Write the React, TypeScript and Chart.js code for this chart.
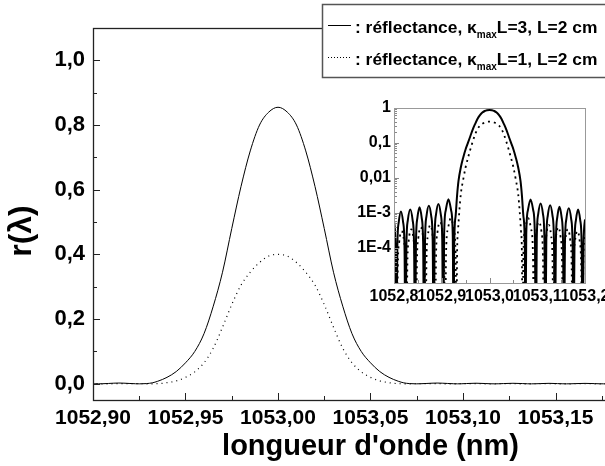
import React, { useEffect, useRef } from "react";
import { Chart, registerables } from "chart.js";
Chart.register(...registerables);

const FONT = '"Liberation Sans", Arial, Helvetica, sans-serif';

// ---- Series: kappa_max L = 3 (solid) ----
const SOLID_X = [
  1052.8, 1052.803, 1052.805,
  1052.807, 1052.81, 1052.8145, 1052.819, 1052.822, 1052.824,
  1052.826, 1052.829, 1052.834, 1052.839, 1052.842, 1052.844,
  1052.846, 1052.849, 1052.8535, 1052.858, 1052.861, 1052.863,
  1052.865, 1052.868, 1052.873, 1052.878, 1052.881, 1052.883,
  1052.885, 1052.888, 1052.893, 1052.898, 1052.901, 1052.903,
  1052.905, 1052.9085, 1052.914, 1052.9195, 1052.923, 1052.925,
  1052.926, 1052.929, 1052.932, 1052.935, 1052.94, 1052.945, 1052.95, 1052.955,
  1052.96, 1052.965, 1052.97, 1052.975, 1052.98, 1052.985, 1052.99, 1052.995,
  1053.0,
  1053.005, 1053.01, 1053.015, 1053.02, 1053.025, 1053.03, 1053.035, 1053.04,
  1053.045, 1053.05, 1053.055, 1053.06, 1053.065, 1053.068, 1053.071, 1053.074, 1053.075,
  1053.077, 1053.0805, 1053.086, 1053.0915, 1053.095, 1053.097,
  1053.099, 1053.102, 1053.107, 1053.112, 1053.115, 1053.117,
  1053.119, 1053.122, 1053.127, 1053.132, 1053.135, 1053.137,
  1053.139, 1053.142, 1053.1465, 1053.151, 1053.154, 1053.156,
  1053.158, 1053.161, 1053.166, 1053.171, 1053.174, 1053.176,
  1053.178, 1053.181, 1053.1855, 1053.19, 1053.193, 1053.195,
  1053.197, 1053.2,
];
const SOLID_Y = [
  6.0e-4, 1.2e-4, 1e-7,
  1.1e-4, 5.5e-4, 1.1e-3, 5.5e-4, 1.1e-4, 1e-7,
  1.25e-4, 6.2e-4, 1.25e-3, 6.2e-4, 1.25e-4, 1e-7,
  1.45e-4, 7.2e-4, 1.45e-3, 7.2e-4, 1.45e-4, 1e-7,
  1.6e-4, 8.0e-4, 1.6e-3, 8.0e-4, 1.6e-4, 1e-7,
  1.8e-4, 9.0e-4, 1.8e-3, 9.0e-4, 1.8e-4, 1e-7,
  2.4e-4, 1.2e-3, 2.45e-3, 1.2e-3, 2.4e-4, 1e-7,
  1e-4, 8e-4, 3e-3, 8e-3, 0.02, 0.038, 0.065, 0.1,
  0.155, 0.24, 0.345, 0.48, 0.61, 0.72, 0.8, 0.84,
  0.855,
  0.84, 0.8, 0.72, 0.61, 0.48, 0.345, 0.24, 0.155,
  0.1, 0.065, 0.038, 0.02, 8e-3, 3e-3, 8e-4, 1e-4, 1e-7,
  2.4e-4, 1.2e-3, 2.4e-3, 1.2e-3, 2.4e-4, 1e-7,
  1.85e-4, 9.2e-4, 1.85e-3, 9.2e-4, 1.85e-4, 1e-7,
  1.65e-4, 8.2e-4, 1.65e-3, 8.2e-4, 1.65e-4, 1e-7,
  1.5e-4, 7.5e-4, 1.5e-3, 7.5e-4, 1.5e-4, 1e-7,
  1.35e-4, 6.7e-4, 1.35e-3, 6.7e-4, 1.35e-4, 1e-7,
  1.25e-4, 6.2e-4, 1.25e-3, 6.2e-4, 1.25e-4, 1e-7,
  1.2e-4, 6.5e-4,
];

// ---- Series: kappa_max L = 1 (dotted) ----
const DOTTED_X = [
  1052.8, 1052.803, 1052.806,
  1052.808, 1052.811, 1052.816, 1052.821, 1052.824, 1052.826,
  1052.828, 1052.831, 1052.836, 1052.841, 1052.844, 1052.846,
  1052.848, 1052.851, 1052.856, 1052.861, 1052.864, 1052.866,
  1052.868, 1052.871, 1052.876, 1052.881, 1052.884, 1052.886,
  1052.888, 1052.891, 1052.8965, 1052.902, 1052.905, 1052.907,
  1052.909, 1052.913, 1052.919, 1052.925, 1052.929, 1052.931,
  1052.932, 1052.934, 1052.937, 1052.94, 1052.945, 1052.95, 1052.955, 1052.96,
  1052.965, 1052.97, 1052.975, 1052.98, 1052.985, 1052.99, 1052.995,
  1053.0,
  1053.005, 1053.01, 1053.015, 1053.02, 1053.025, 1053.03, 1053.035,
  1053.04, 1053.045, 1053.05, 1053.055, 1053.06, 1053.063, 1053.066, 1053.068, 1053.069,
  1053.071, 1053.075, 1053.081, 1053.087, 1053.091, 1053.093,
  1053.095, 1053.098, 1053.1035, 1053.109, 1053.112, 1053.114,
  1053.116, 1053.119, 1053.124, 1053.129, 1053.132, 1053.134,
  1053.136, 1053.139, 1053.144, 1053.149, 1053.152, 1053.154,
  1053.156, 1053.159, 1053.164, 1053.169, 1053.172, 1053.174,
  1053.176, 1053.179, 1053.184, 1053.189, 1053.192, 1053.194,
  1053.197, 1053.2,
];
const DOTTED_Y = [
  2.2e-4, 8e-5, 1e-7,
  3e-5, 1.5e-4, 3e-4, 1.5e-4, 3e-5, 1e-7,
  3.4e-5, 1.7e-4, 3.4e-4, 1.7e-4, 3.4e-5, 1e-7,
  3.9e-5, 1.95e-4, 3.9e-4, 1.95e-4, 3.9e-5, 1e-7,
  4.5e-5, 2.25e-4, 4.5e-4, 2.25e-4, 4.5e-5, 1e-7,
  5.5e-5, 2.75e-4, 5.5e-4, 2.75e-4, 5.5e-5, 1e-7,
  7e-5, 3.5e-4, 7e-4, 3.5e-4, 7e-5, 1e-7,
  5e-5, 3e-4, 1.2e-3, 3.5e-3, 9e-3, 0.02, 0.037, 0.065,
  0.11, 0.175, 0.245, 0.305, 0.345, 0.375, 0.395,
  0.4,
  0.395, 0.375, 0.345, 0.305, 0.245, 0.175, 0.11,
  0.065, 0.037, 0.02, 9e-3, 3.5e-3, 1.2e-3, 3e-4, 5e-5, 1e-7,
  7e-5, 3.5e-4, 7e-4, 3.5e-4, 7e-5, 1e-7,
  5.5e-5, 2.75e-4, 5.5e-4, 2.75e-4, 5.5e-5, 1e-7,
  4.5e-5, 2.25e-4, 4.5e-4, 2.25e-4, 4.5e-5, 1e-7,
  3.9e-5, 1.95e-4, 3.9e-4, 1.95e-4, 3.9e-5, 1e-7,
  3.4e-5, 1.7e-4, 3.4e-4, 1.7e-4, 3.4e-5, 1e-7,
  3e-5, 1.5e-4, 3e-4, 1.5e-4, 3e-5, 1e-7,
  8e-5, 2.2e-4,
];

// ---- Ticks ----
const MAIN_X_TICKS = [1052.9, 1052.925, 1052.95, 1052.975, 1053.0, 1053.025, 1053.05, 1053.075, 1053.1, 1053.125, 1053.15, 1053.175, 1053.2];
const MAIN_X_LABELS = ["1052,90", "", "1052,95", "", "1053,00", "", "1053,05", "", "1053,10", "", "1053,15", "", ""];
const MAIN_Y_TICKS = [0, 0.1, 0.2, 0.3, 0.4, 0.5, 0.6, 0.7, 0.8, 0.9, 1.0];
const MAIN_Y_LABELS = ["0,0", "", "0,2", "", "0,4", "", "0,6", "", "0,8", "", "1,0"];
const INSET_X_TICKS = [1052.8, 1052.85, 1052.9, 1052.95, 1053.0, 1053.05, 1053.1, 1053.15, 1053.2];
const INSET_X_LABELS = ["1052,8", "", "1052,9", "", "1053,0", "", "1053,1", "", "1053,2"];
const INSET_Y_DECADES = [1e-5, 1e-4, 1e-3, 1e-2, 1e-1, 1];
const INSET_Y_LABELS = ["", "1E-4", "1E-3", "0,01", "0,1", "1"];

const X_TITLE = "longueur d'onde (nm)";
const Y_TITLE = "r(\u03bb)";
const LEGEND_PRE = [": réflectance, \u03ba", ": réflectance, \u03ba"];
const LEGEND_SUB = ["max", "max"];
const LEGEND_POST = ["L=3, L=2 cm", "L=1, L=2 cm"];

function insetYTicks() {
  const out: number[] = [];
  for (let i = 0; i < INSET_Y_DECADES.length - 1; i++) {
    const d = INSET_Y_DECADES[i];
    out.push(d);
    for (let m = 2; m <= 9; m++) out.push(m * d);
  }
  out.push(INSET_Y_DECADES[INSET_Y_DECADES.length - 1]);
  return out;
}

function pts(xs: number[], ys: number[]) {
  return xs.map((x, i) => ({ x, y: ys[i] }));
}

function decoPlugin(cfg: { major: number; minor: number; tickColor: string; frameColor: string; frameWidth: number }) {
  return {
    id: "deco",
    afterDraw(chart: any) {
      const { ctx, chartArea: a, scales } = chart;
      const xs = scales.x, ys = scales.y;
      ctx.save();
      ctx.strokeStyle = cfg.tickColor;
      ctx.lineWidth = 1;
      ctx.beginPath();
      xs.ticks.forEach((t: any) => {
        const px = Math.round(xs.getPixelForValue(t.value)) + 0.5;
        const len = t.label ? cfg.major : cfg.minor;
        ctx.moveTo(px, a.bottom);
        ctx.lineTo(px, a.bottom - len);
      });
      ys.ticks.forEach((t: any) => {
        const py = Math.round(ys.getPixelForValue(t.value)) + 0.5;
        const len = t.label ? cfg.major : cfg.minor;
        ctx.moveTo(a.left, py);
        ctx.lineTo(a.left + len, py);
      });
      ctx.stroke();
      ctx.strokeStyle = cfg.frameColor;
      ctx.lineWidth = cfg.frameWidth;
      ctx.strokeRect(Math.round(a.left) + 0.5, Math.round(a.top) + 0.5, Math.round(a.right - a.left), Math.round(a.bottom - a.top));
      ctx.restore();
    },
  };
}

const mainExtras = {
  id: "mainExtras",
  afterDraw(chart: any) {
    const ctx = chart.ctx;
    ctx.save();
    // y title
    ctx.translate(22, 231);
    ctx.rotate(-Math.PI / 2);
    ctx.font = `bold 32px ${FONT}`;
    ctx.textAlign = "center";
    ctx.textBaseline = "middle";
    ctx.fillStyle = "#000";
    ctx.fillText(Y_TITLE, 0, 0);
    ctx.restore();

    // legend box
    ctx.save();
    ctx.fillStyle = "#fff";
    ctx.fillRect(322, 4, 340, 73);
    ctx.strokeStyle = "#555";
    ctx.lineWidth = 1.5;
    ctx.strokeRect(322.5, 4.5, 340, 73);
    for (let i = 0; i < LEGEND_PRE.length; i++) {
      const base = 33 + i * 32;
      const ly = base - 8;
      ctx.strokeStyle = "#000";
      ctx.lineWidth = 1;
      ctx.setLineDash(i === 0 ? [] : [1, 2]);
      ctx.beginPath();
      ctx.moveTo(328, ly + 0.5);
      ctx.lineTo(351, ly + 0.5);
      ctx.stroke();
      ctx.setLineDash([]);
      ctx.fillStyle = "#000";
      ctx.textBaseline = "alphabetic";
      ctx.textAlign = "left";
      let x = 355;
      ctx.font = `bold 17.4px ${FONT}`;
      ctx.fillText(LEGEND_PRE[i], x, base);
      x += ctx.measureText(LEGEND_PRE[i]).width;
      ctx.font = `bold 10px ${FONT}`;
      ctx.fillText(LEGEND_SUB[i], x, base + 5);
      x += ctx.measureText(LEGEND_SUB[i]).width;
      ctx.font = `bold 17.4px ${FONT}`;
      ctx.fillText(LEGEND_POST[i], x, base);
    }
    ctx.restore();
  },
};

export default function App() {
  const mainRef = useRef<HTMLCanvasElement>(null);
  const insetRef = useRef<HTMLCanvasElement>(null);

  useEffect(() => {
    Chart.defaults.font.family = FONT;
    Chart.defaults.color = "#000";

    const main = new Chart(mainRef.current as HTMLCanvasElement, {
      type: "line",
      data: {
        datasets: [
          { data: pts(SOLID_X, SOLID_Y), borderColor: "#000", borderWidth: 1, pointRadius: 0, cubicInterpolationMode: "monotone", fill: false },
          { data: pts(DOTTED_X, DOTTED_Y), borderColor: "#000", borderWidth: 1.2, borderDash: [1, 4], pointRadius: 0, cubicInterpolationMode: "monotone", fill: false },
        ],
      },
      options: {
        animation: false,
        responsive: false,
        devicePixelRatio: 1,
        layout: { padding: { top: 28, right: 12, left: 0, bottom: 0 } },
        plugins: { legend: { display: false }, tooltip: { enabled: false } },
        scales: {
          x: {
            type: "linear",
            min: 1052.9,
            max: 1053.2,
            grid: { display: false, drawTicks: false },
            border: { display: false },
            afterBuildTicks: (s: any) => { s.ticks = MAIN_X_TICKS.map((v) => ({ value: v })); },
            afterFit: (s: any) => { s.height = 66; },
            ticks: {
              autoSkip: false, maxRotation: 0, minRotation: 0, padding: 6,
              font: { size: 21, weight: "bold" }, color: "#000",
              callback: (_v: any, i: number) => MAIN_X_LABELS[i],
            },
            title: { display: true, text: X_TITLE, font: { size: 29, weight: "bold" }, color: "#000", padding: { top: 0, bottom: 2 } },
          },
          y: {
            type: "linear",
            min: -0.05,
            max: 1.1,
            grid: { display: false, drawTicks: false },
            border: { display: false },
            afterBuildTicks: (s: any) => { s.ticks = MAIN_Y_TICKS.map((v) => ({ value: v })); },
            afterFit: (s: any) => { s.width = 93; },
            ticks: {
              autoSkip: false, padding: 8,
              font: { size: 22, weight: "bold" }, color: "#000",
              callback: (_v: any, i: number) => MAIN_Y_LABELS[i],
            },
          },
        },
      } as any,
      plugins: [decoPlugin({ major: 7, minor: 4, tickColor: "#222", frameColor: "#222", frameWidth: 1.3 }), mainExtras],
    });

    const inset = new Chart(insetRef.current as HTMLCanvasElement, {
      type: "line",
      data: {
        datasets: [
          { data: pts(SOLID_X, SOLID_Y), borderColor: "#000", borderWidth: 2, pointRadius: 0, cubicInterpolationMode: "monotone", fill: false },
          { data: pts(DOTTED_X, DOTTED_Y), borderColor: "#000", borderWidth: 1.8, borderDash: [2, 4], pointRadius: 0, cubicInterpolationMode: "monotone", fill: false },
        ],
      },
      options: {
        animation: false,
        responsive: false,
        devicePixelRatio: 1,
        layout: { padding: { top: 12, right: 55, left: 0, bottom: 0 } },
        plugins: { legend: { display: false }, tooltip: { enabled: false } },
        scales: {
          x: {
            type: "linear",
            min: 1052.8,
            max: 1053.2,
            grid: { display: false, drawTicks: false },
            border: { display: false },
            afterBuildTicks: (s: any) => { s.ticks = INSET_X_TICKS.map((v) => ({ value: v })); },
            afterFit: (s: any) => { s.height = 34; },
            ticks: {
              autoSkip: false, maxRotation: 0, minRotation: 0, padding: 4,
              font: { size: 16, weight: "bold" }, color: "#000",
              callback: (_v: any, i: number) => INSET_X_LABELS[i],
            },
          },
          y: {
            type: "logarithmic",
            min: 1e-5,
            max: 1,
            grid: { display: false, drawTicks: false },
            border: { display: false },
            afterBuildTicks: (s: any) => { s.ticks = insetYTicks().map((v) => ({ value: v })); },
            afterFit: (s: any) => { s.width = 64; },
            ticks: {
              autoSkip: false, padding: 3,
              font: { size: 16, weight: "bold" }, color: "#000",
              callback: (v: any) => {
                const k = INSET_Y_DECADES.findIndex((d) => Math.abs(v / d - 1) < 1e-6);
                return k >= 0 ? INSET_Y_LABELS[k] : "";
              },
            },
          },
        },
      } as any,
      plugins: [decoPlugin({ major: 5, minor: 3, tickColor: "#888", frameColor: "#999", frameWidth: 1 })],
    });

    return () => {
      main.destroy();
      inset.destroy();
    };
  }, []);

  return (
    <div style={{ position: "fixed", left: 0, top: 0, width: 605, height: 466, overflow: "hidden", background: "#fff" }}>
      <canvas ref={mainRef} width={660} height={466} style={{ position: "absolute", left: 0, top: 0, width: 660, height: 466 }} />
      <canvas ref={insetRef} width={310} height={222} style={{ position: "absolute", left: 330, top: 95, width: 310, height: 222 }} />
    </div>
  );
}
